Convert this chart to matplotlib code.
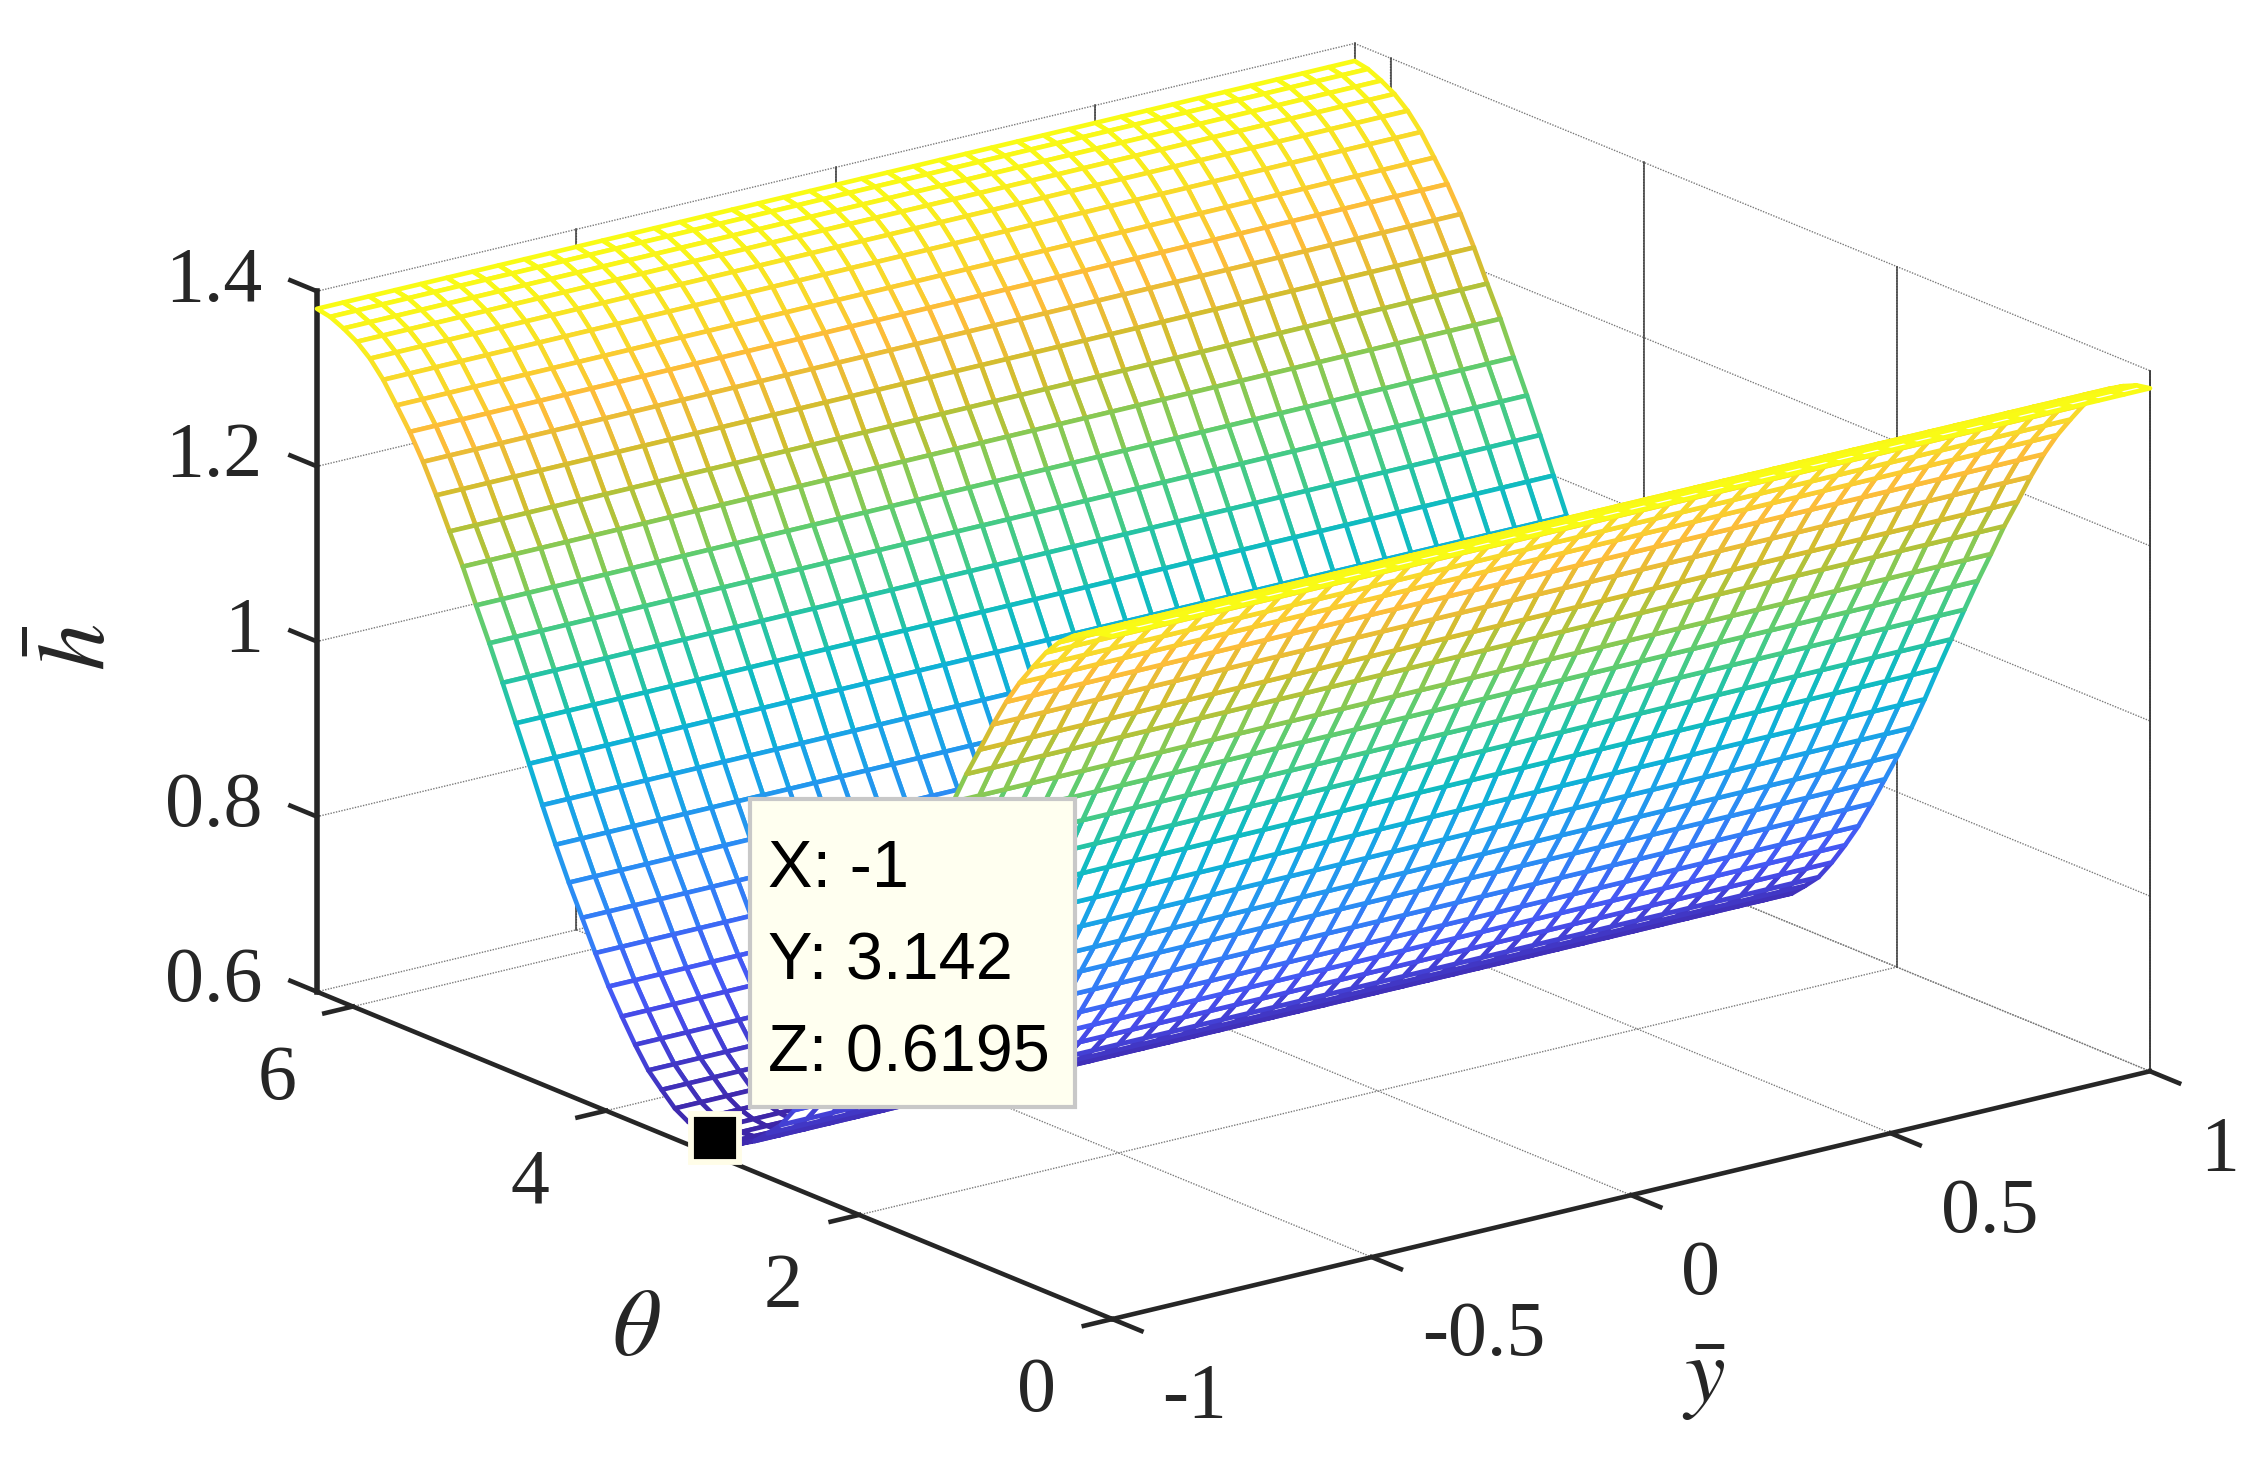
import numpy as np
import matplotlib
matplotlib.use("Agg")
import matplotlib.pyplot as plt
from matplotlib.colors import LinearSegmentedColormap, Normalize
from matplotlib.patches import Rectangle
from mpl_toolkits.mplot3d import proj3d

# ---------- data ----------
y_bar = [-1.00, -0.95, -0.90, -0.85, -0.80, -0.75, -0.70, -0.65, -0.60, -0.55, -0.50,
         -0.45, -0.40, -0.35, -0.30, -0.25, -0.20, -0.15, -0.10, -0.05, 0.00,
         0.05, 0.10, 0.15, 0.20, 0.25, 0.30, 0.35, 0.40, 0.45, 0.50,
         0.55, 0.60, 0.65, 0.70, 0.75, 0.80, 0.85, 0.90, 0.95, 1.00]
theta = [0.0000, 0.1047, 0.2094, 0.3142, 0.4189, 0.5236, 0.6283, 0.7330, 0.8378, 0.9425,
         1.0472, 1.1519, 1.2566, 1.3614, 1.4661, 1.5708, 1.6755, 1.7802, 1.8850, 1.9897,
         2.0944, 2.1991, 2.3038, 2.4086, 2.5133, 2.6180, 2.7227, 2.8274, 2.9322, 3.0369,
         3.1416, 3.2463, 3.3510, 3.4558, 3.5605, 3.6652, 3.7699, 3.8746, 3.9794, 4.0841,
         4.1888, 4.2935, 4.3982, 4.5029, 4.6077, 4.7124, 4.8171, 4.9218, 5.0265, 5.1313,
         5.2360, 5.3407, 5.4454, 5.5501, 5.6549, 5.7596, 5.8643, 5.9690, 6.0737, 6.1785,
         6.2832]
h_bar = [1.380, 1.377, 1.370, 1.361, 1.348, 1.330, 1.307, 1.283, 1.255, 1.223,
         1.188, 1.154, 1.116, 1.079, 1.040, 1.000, 0.960, 0.919, 0.880, 0.843,
         0.809, 0.775, 0.743, 0.715, 0.689, 0.666, 0.650, 0.635, 0.626, 0.621,
         0.6195, 0.621, 0.626, 0.635, 0.650, 0.666, 0.689, 0.715, 0.743, 0.775,
         0.809, 0.843, 0.880, 0.919, 0.960, 1.000, 1.040, 1.079, 1.116, 1.154,
         1.188, 1.223, 1.255, 1.283, 1.307, 1.330, 1.348, 1.361, 1.370, 1.377,
         1.380]
x_ticks = [-1, -0.5, 0, 0.5, 1]
x_tick_labels = ["-1", "-0.5", "0", "0.5", "1"]
theta_ticks = [0, 2, 4, 6]
theta_tick_labels = ["0", "2", "4", "6"]
z_ticks = [0.6, 0.8, 1.0, 1.2, 1.4]
z_tick_labels = ["0.6", "0.8", "1", "1.2", "1.4"]
tip_point = (-1, 3.142, 0.6195)
tip_lines = ["X: -1", "Y: 3.142", "Z: 0.6195"]

parula_stops = [(0.00, "#3e26a8"), (0.125, "#4752f4"), (0.25, "#2e87f7"), (0.375, "#19a5e6"),
                (0.45, "#0ab9cd"), (0.50, "#19beb4"), (0.55, "#32c896"), (0.65, "#6ecd64"),
                (0.75, "#c8be2d"), (0.85, "#fcbb3a"), (0.93, "#f8dc28"), (1.00, "#f9fb15")]

# ---------- style ----------
W, H = 2255, 1462
plt.rcParams["font.family"] = ["Liberation Serif", "DejaVu Serif"]
plt.rcParams["mathtext.fontset"] = "stix"
plt.rcParams["grid.color"] = "#7a7a7a"
plt.rcParams["grid.linewidth"] = 1.0
plt.rcParams["grid.linestyle"] = (0, (1, 1))
INK = "#262626"
TICK_FS = 56

fig = plt.figure(figsize=(W / 100, H / 100), dpi=100, facecolor="white")
ax = fig.add_axes([0.1, 0.1, 0.6, 0.6 * W / H], projection="3d", computed_zorder=False)
ax.set_proj_type("ortho")
ax.view_init(elev=18.27, azim=-127.3)
ax.set_box_aspect((1305, 1313, 738))
ax.set_autoscale_on(False)

XMIN, XMAX = -1, 1
TMIN, TMAX = 0, theta[-1]
ZMIN, ZMAX = 0.6, 1.4

# surface
X, T = np.meshgrid(y_bar, theta)
Z = np.tile(np.array(h_bar)[:, None], (1, len(y_bar)))
cmap = LinearSegmentedColormap.from_list("parula_like", parula_stops)
norm = Normalize(min(h_bar), max(h_bar))
surf = ax.plot_surface(X, T, Z, rstride=1, cstride=1, color="white", shade=False,
                       linewidth=3.3, antialiased=True, zorder=5)
cell = (Z[:-1, :-1] + Z[1:, :-1] + Z[:-1, 1:] + Z[1:, 1:]) / 4
surf.set_edgecolor(cmap(norm(cell.ravel())))
surf.set_clip_on(False)

# axes box
for a in (ax.xaxis, ax.yaxis, ax.zaxis):
    a.set_pane_color((1, 1, 1, 0))
    a.pane.set_edgecolor((1, 1, 1, 0))
    a.line.set_visible(False)
    a._axinfo["tick"]["inward_factor"] = 0
    a._axinfo["tick"]["outward_factor"] = 0
ax.set_xticks(x_ticks); ax.set_xticklabels([])
ax.set_yticks(theta_ticks); ax.set_yticklabels([])
ax.set_zticks(z_ticks); ax.set_zticklabels([])

# dark vertical grid lines on the two back walls
for t in theta_ticks + [TMIN, TMAX]:
    ax.plot([XMAX, XMAX], [t, t], [ZMIN, ZMAX], color="#3a3a3a", lw=1.1, zorder=1, clip_on=False)
for x in x_ticks[:-1]:
    ax.plot([x, x], [TMAX, TMAX], [ZMIN, ZMAX], color="#3a3a3a", lw=1.1, zorder=1, clip_on=False)

# axis lines and tick marks
line_kw = dict(color=INK, lw=3.3, zorder=4, clip_on=False, solid_capstyle="projecting")
ax.plot([XMIN, XMAX], [TMIN, TMIN], [ZMIN, ZMIN], **line_kw)
ax.plot([XMIN, XMIN], [TMIN, TMAX], [ZMIN, ZMIN], **line_kw)
ax.plot([XMIN, XMIN], [TMAX, TMAX], [ZMIN, ZMAX], **{**line_kw, "lw": 4.0})
for x in x_ticks:
    ax.plot([x, x], [TMIN, TMIN - 0.23], [ZMIN, ZMIN], **line_kw)
for t in theta_ticks:
    ax.plot([XMIN, XMIN - 0.055], [t, t], [ZMIN, ZMIN], **line_kw)
for z in z_ticks:
    ax.plot([XMIN, XMIN], [TMAX, TMAX + 0.21], [z, z], **line_kw)

# data tip marker
ax.plot([tip_point[0]], [tip_point[1]], [tip_point[2]], linestyle="none", marker="s", ms=35,
        mfc="black", mec="#fffde8", mew=4.2, zorder=7, clip_on=False)

ax.set_xlim(XMIN, XMAX)
ax.set_ylim(TMIN, TMAX)
ax.set_zlim(ZMIN, ZMAX)

# fit the axes box so the cube corners land where they are in the reference
target_C = np.array([317.0, H - 992.0])   # x=-1, theta=max, z=0.6
target_B = np.array([2150.0, H - 1071.0])  # x=1, theta=0, z=0.6


def corner_px(x, t, z):
    ax.apply_aspect()
    px, py, _ = proj3d.proj_transform(x, t, z, ax.get_proj())
    return ax.transData.transform((px, py))


for _ in range(3):
    c = corner_px(XMIN, TMAX, ZMIN)
    b = corner_px(XMAX, TMIN, ZMIN)
    pos = ax.get_position(original=True)
    scale = (target_B[0] - target_C[0]) / (b[0] - c[0])
    side = pos.width * W * scale
    cx = (pos.x0 + pos.width / 2) * W
    cy = (pos.y0 + pos.height / 2) * H
    mid = (c + b) / 2
    tgt = (target_C + target_B) / 2
    cx_new = tgt[0] - (mid[0] - cx) * scale
    cy_new = tgt[1] - (mid[1] - cy) * scale
    ax.set_position([(cx_new - side / 2) / W, (cy_new - side / 2) / H, side / W, side / H])
ax.apply_aspect()


def tick_text(x, t, z, s, ha):
    """Tick label placed at the projected position of a point near the box."""
    px, py, _ = proj3d.proj_transform(x, t, z, ax.get_proj())
    ax.text2D(px, py, s, transform=ax.transData, fontsize=TICK_FS, color=INK, ha=ha, va="center")


for x, s in zip(x_ticks, x_tick_labels):
    tick_text(x, TMIN - 0.395, ZMIN - 0.0634 - 0.004, s, "left")
for t, s in zip(theta_ticks, theta_tick_labels):
    tick_text(XMIN - 0.146, t, ZMIN - 0.059 - 0.004, s, "center")
for z, s in zip(z_ticks, z_tick_labels):
    tick_text(XMIN, TMAX + 0.43, z - 0.011 - 0.004, s, "right")

# axis titles
fig.text(1704 / W, 1 - 1382 / H, r"$\bar{y}$", fontsize=66, color=INK, ha="center", va="center")
fig.text(636 / W, 1 - 1333 / H, r"$\theta$", fontsize=68, color=INK, ha="center", va="center")
fig.text(82 / W, 1 - 647 / H, r"$\bar{h}$", fontsize=68, color=INK, ha="center", va="center", rotation=90)

# data tip box
fig.add_artist(Rectangle((750 / W, 1 - 1107 / H), 325 / W, 308 / H, transform=fig.transFigure,
                         facecolor="#fffff0", edgecolor="#c8c8c8", linewidth=3.0, zorder=20))
for line, base_y in zip(tip_lines, [887, 979, 1071]):
    fig.text(768 / W, 1 - base_y / H, line, fontsize=48, family=["Liberation Sans", "DejaVu Sans"],
             color="black", ha="left", va="baseline", zorder=21)

fig.savefig("out.png", dpi=100, facecolor="white")
